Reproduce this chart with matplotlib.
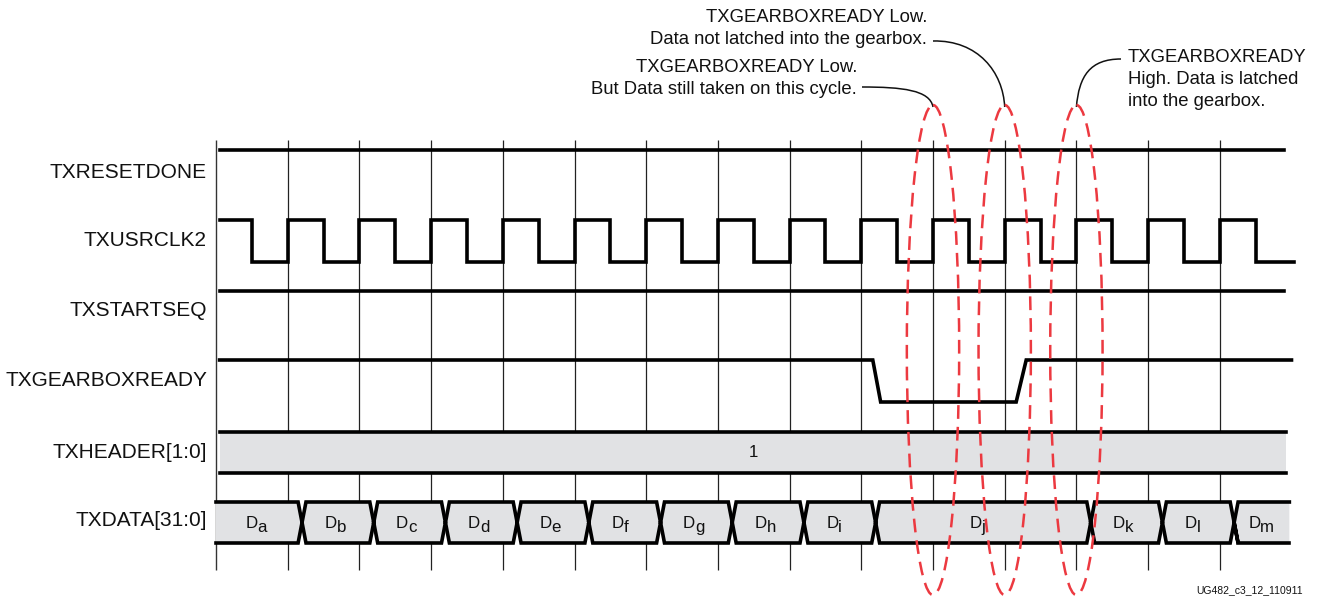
import matplotlib
matplotlib.use("Agg")
import matplotlib.pyplot as plt
from matplotlib.patches import Ellipse, Polygon, Rectangle, PathPatch
from matplotlib.path import Path

plt.rcParams['font.family'] = ['Liberation Sans', 'DejaVu Sans']

# ---------------- data ----------------
signal_names = ["TXRESETDONE", "TXUSRCLK2", "TXSTARTSEQ", "TXGEARBOXREADY",
                "TXHEADER[1:0]", "TXDATA[31:0]"]

t_start, t_end = 0.05, 15.0            # in clock periods
n_cycles = 14                          # grid lines at cycles 1..14

# clock: rising at integer cycles, falling half way
clk_rise = [1, 2, 3, 4, 5, 6, 7, 8, 9, 10, 11, 12, 13, 14]
clk_fall = [0.5, 1.5, 2.5, 3.5, 4.5, 5.5, 6.5, 7.5, 8.5, 9.5, 10.5, 11.5, 12.5, 13.5, 14.5]

resetdone_level = 1
startseq_level = 1

gbr_times = [0.05, 9.16, 9.27, 11.16, 11.30, 15.0]
gbr_levels = [1, 1, 0, 0, 1, 1]

header_value = "1"

data_labels = ["a", "b", "c", "d", "e", "f", "g", "h", "i", "j", "k", "l", "m"]
data_edges = [0.0, 1.2, 2.2, 3.2, 4.2, 5.2, 6.2, 7.2, 8.2, 9.2, 12.2, 13.2, 14.2, 14.97]

ellipse_cycles = [10, 11, 12]

ann1_lines = ["TXGEARBOXREADY Low.", "Data not latched into the gearbox."]
ann2_lines = ["TXGEARBOXREADY Low.", "But Data still taken on this cycle."]
ann3_lines = ["TXGEARBOXREADY", "High. Data is latched", "into the gearbox."]
footer = "UG482_c3_12_110911"

# ---------------- layout ----------------
W, H = 1317, 601
X0, P = 216.0, 71.7          # pixel of t=0, pixels per period
def tx(px):                  # pixel x -> time
    return (px - X0) / P

fig = plt.figure(figsize=(W / 100, H / 100), dpi=100)
ax = fig.add_axes([0, 0, 1, 1])
ax.set_xlim(tx(0), tx(W))
ax.set_ylim(H, 0)
ax.axis('off')

row_high = [150, 220, 291, 360]
swing = 42
bus_top = [432, 502]
bus_h = 41
label_y = [172, 240, 311, 381, 452, 521]
LW = 2.6
fill_c = '#e1e2e4'
red = '#ec3940'
txt_c = '#111111'

# grid
ax.vlines([0], 140, 570, color='#333333', lw=1.0, zorder=1)
ax.vlines(list(range(1, n_cycles + 1)), 140, 570, color='#222222', lw=0.9, zorder=1)

# labels
for name, y in zip(signal_names, label_y):
    ax.text(tx(207), y, name, ha='right', va='center', fontsize=15, color=txt_c)

def lvl(row, v):
    return row_high[row] + (0 if v else swing)

# TXRESETDONE
ax.plot([t_start, 14.9], [lvl(0, resetdone_level)] * 2, color='k', lw=LW, zorder=3)

# TXUSRCLK2
xs, ys = [t_start], [lvl(1, 1)]
edges = sorted([(t, 0) for t in clk_fall] + [(t, 1) for t in clk_rise])
cur = 1
for t, v in edges:
    xs += [t, t]
    ys += [lvl(1, cur), lvl(1, v)]
    cur = v
xs.append(15.03)
ys.append(lvl(1, cur))
ax.plot(xs, ys, color='k', lw=LW, zorder=3, solid_joinstyle='miter')

# TXSTARTSEQ
ax.plot([t_start, 14.9], [lvl(2, startseq_level)] * 2, color='k', lw=LW, zorder=3)

# TXGEARBOXREADY
ax.plot(gbr_times, [lvl(3, v) for v in gbr_levels], color='k', lw=LW, zorder=3,
        solid_joinstyle='miter')

# TXHEADER bus
ht, hb = bus_top[0], bus_top[0] + bus_h
ax.add_patch(Rectangle((t_start, ht), 14.92 - t_start, bus_h, facecolor=fill_c,
                       edgecolor='none', zorder=2))
ax.plot([t_start, 14.92], [ht, ht], color='k', lw=LW, zorder=3)
ax.plot([t_start, 14.92], [hb, hb], color='k', lw=LW, zorder=3)
ax.text(tx(753), (ht + hb) / 2, header_value, ha='center', va='center', fontsize=12.2,
        color=txt_c, zorder=4)

# TXDATA bus
dt, db = bus_top[1], bus_top[1] + bus_h
dm = (dt + db) / 2
w = 0.055
nseg = len(data_labels)
for i, lab in enumerate(data_labels):
    a, b = data_edges[i], data_edges[i + 1]
    left_x = i > 0
    right_x = i < nseg - 1
    top = [(a, dm), (a + w, dt)] if left_x else [(a, dt)]
    if right_x:
        top += [(b - w, dt), (b, dm)]
        bot = [(b - w, db)]
    else:
        top += [(b, dt)]
        bot = [(b, db)]
    bot += [(a + w, db), (a, dm)] if left_x else [(a, db)]
    pts = top + bot
    ax.add_patch(Polygon(pts, closed=True, facecolor=fill_c, edgecolor='none', zorder=2))
    if right_x:
        outline = pts
        ax.plot([p[0] for p in outline], [p[1] for p in outline], color='k', lw=LW,
                zorder=3, solid_joinstyle='miter')
    else:
        # last segment: open on the right
        t_line = top[::-1]
        b_line = bot
        ax.plot([p[0] for p in t_line] + [p[0] for p in b_line[1:]],
                [p[1] for p in t_line] + [p[1] for p in b_line[1:]],
                color='k', lw=LW, zorder=3, solid_joinstyle='miter')
        ax.plot([b_line[0][0], b_line[1][0]], [b_line[0][1], b_line[1][1]],
                color='k', lw=LW, zorder=3)
    cx = (a + b) / 2 - 0.05
    ax.text(cx + 0.03, dm + 1, "D", ha='right', va='center', fontsize=12.2,
            color=txt_c, zorder=4)
    ax.text(cx + 0.03, dm + 5, lab, ha='left', va='center', fontsize=12.2,
            color=txt_c, zorder=4)

# red dashed ellipses
e_cy, e_h, e_w = 350, 490, 0.73
for c in ellipse_cycles:
    ax.add_patch(Ellipse((c, e_cy), e_w, e_h, facecolor='none', edgecolor=red,
                         lw=1.8, linestyle=(0, (5.5, 3.2)), zorder=5))
e_top = e_cy - e_h / 2

# annotations
afs = 13.3
for i, s in enumerate(ann1_lines):
    ax.text(tx(927), 18 + 22 * i, s, ha='right', va='center', fontsize=afs, color=txt_c)
for i, s in enumerate(ann2_lines):
    ax.text(tx(857), 67 + 23 * i, s, ha='right', va='center', fontsize=afs, color=txt_c)
for i, s in enumerate(ann3_lines):
    ax.text(tx(1128), 57 + 22 * i, s, ha='left', va='center', fontsize=afs, color=txt_c)

def leader(p0, p1, p2, p3):
    verts = [(tx(p0[0]), p0[1]), (tx(p1[0]), p1[1]), (tx(p2[0]), p2[1]), (tx(p3[0]), p3[1])]
    path = Path(verts, [Path.MOVETO, Path.CURVE4, Path.CURVE4, Path.CURVE4])
    ax.add_patch(PathPatch(path, facecolor='none', edgecolor=txt_c, lw=1.1, zorder=4))

x_e = [X0 + P * c for c in ellipse_cycles]
leader((933, 41), (978, 40), (1003, 72), (x_e[1], e_top + 2))
leader((862, 87), (902, 87), (930, 90), (x_e[0], e_top + 2))
leader((1121, 59), (1090, 59), (1079, 76), (x_e[2], e_top + 2))

ax.text(tx(1303), 590, footer, ha='right', va='center', fontsize=7.5, color=txt_c)

fig.savefig("out.png", dpi=100)
